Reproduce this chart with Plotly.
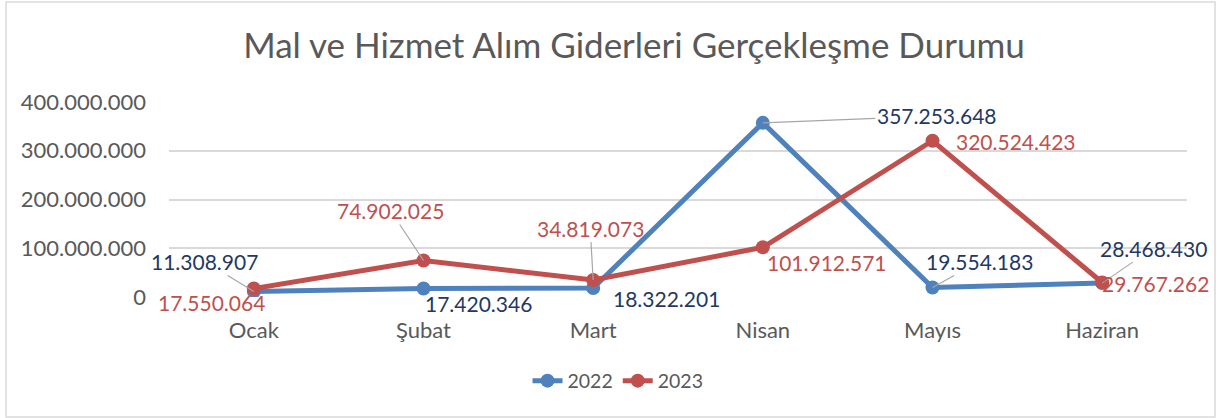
import plotly.graph_objects as go

months = ["Ocak", "Şubat", "Mart", "Nisan", "Mayıs", "Haziran"]
vals_2022 = [11308907, 17420346, 18322201, 357253648, 19554183, 28468430]
vals_2023 = [17550064, 74902025, 34819073, 101912571, 320524423, 29767262]
y_ticks = [0, 100000000, 200000000, 300000000, 400000000]

# label placement (screen pixel offsets, down positive): (mode, dx, dy)
lab_2022 = [("arrow", -49, -30), ("shift", 55, 15), ("shift", 73, 10),
            ("arrow", 174, -7), ("arrow", 47, -26), ("arrow", 51, -35)]
lab_2023 = [("shift", -42, 14), ("arrow", -33, -50), ("arrow", -3, -52),
            ("shift", 64, 15), ("shift", 83, 1), ("shift", 53, 1)]

BLUE = "#4F81BD"
RED = "#C0504D"
BLUE_TXT = "#1F3864"
RED_TXT = "#C0504D"
GREY_TXT = "#595959"
FONT = "Lato"


def fmt(v):
    return f"{v:,}".replace(",", ".")


fig = go.Figure()
fig.add_trace(go.Scatter(x=months, y=vals_2022, name="2022", mode="lines+markers",
                         line=dict(color=BLUE, width=5), marker=dict(size=14, color=BLUE)))
fig.add_trace(go.Scatter(x=months, y=vals_2023, name="2023", mode="lines+markers",
                         line=dict(color=RED, width=5), marker=dict(size=14, color=RED)))

anns = []
for vals, labs, col in ((vals_2022, lab_2022, BLUE_TXT), (vals_2023, lab_2023, RED_TXT)):
    for m, v, (mode, dx, dy) in zip(months, vals, labs):
        base = dict(x=m, y=v, xref="x", yref="y", text=fmt(v),
                    font=dict(family=FONT, size=21, color=col))
        if mode == "arrow":
            base.update(showarrow=True, ax=dx, ay=dy, arrowhead=0, arrowwidth=1.2,
                        arrowcolor="#A6A6A6", standoff=0)
        else:
            base.update(showarrow=False, xshift=dx, yshift=-dy)
        anns.append(base)

W, H = 1219, 418
L, R, T, B = 169, 32, 102, 121
pw, ph = W - L - R, H - T - B

fig.update_layout(
    width=W, height=H,
    margin=dict(l=L, r=R, t=T, b=B, autoexpand=False),
    paper_bgcolor="white", plot_bgcolor="white",
    separators=",.",
    title=dict(text="Mal ve Hizmet Alım Giderleri Gerçekleşme Durumu",
               x=634 / W, xref="container", y=1 - 46 / H, yanchor="middle", xanchor="center",
               font=dict(family=FONT, size=35, color=GREY_TXT)),
    xaxis=dict(showgrid=False, showline=False, ticks="", zeroline=False,
               tickfont=dict(family=FONT, size=22, color=GREY_TXT), tickangle=0,
               ticklabelstandoff=18, range=[-0.5, 5.5]),
    yaxis=dict(range=[0, 400000000], tickvals=y_ticks, tickformat=",.0f",
               showgrid=True, gridcolor="#D9D9D9", gridwidth=1.5, zeroline=False,
               showline=False, ticks="", ticklabelstandoff=22,
               tickfont=dict(family=FONT, size=22, color=GREY_TXT)),
    legend=dict(orientation="h", x=(618 - L) / pw, xanchor="center", y=-(381 - 297) / ph,
                yanchor="middle", xref="paper",
                font=dict(family=FONT, size=19.5, color=GREY_TXT)),
    annotations=anns,
    shapes=[dict(type="rect", xref="paper", yref="paper",
                 x0=(6 - L) / pw, x1=(1215 - L) / pw,
                 y0=(H - B - 417) / ph, y1=(H - B - 2) / ph,
                 line=dict(color="#D9D9D9", width=1.5), fillcolor="rgba(0,0,0,0)", layer="below")],
)

fig.write_html("out.html", config={"displayModeBar": False},
               post_script="document.body.style.margin='0';document.body.style.overflow='hidden';")
